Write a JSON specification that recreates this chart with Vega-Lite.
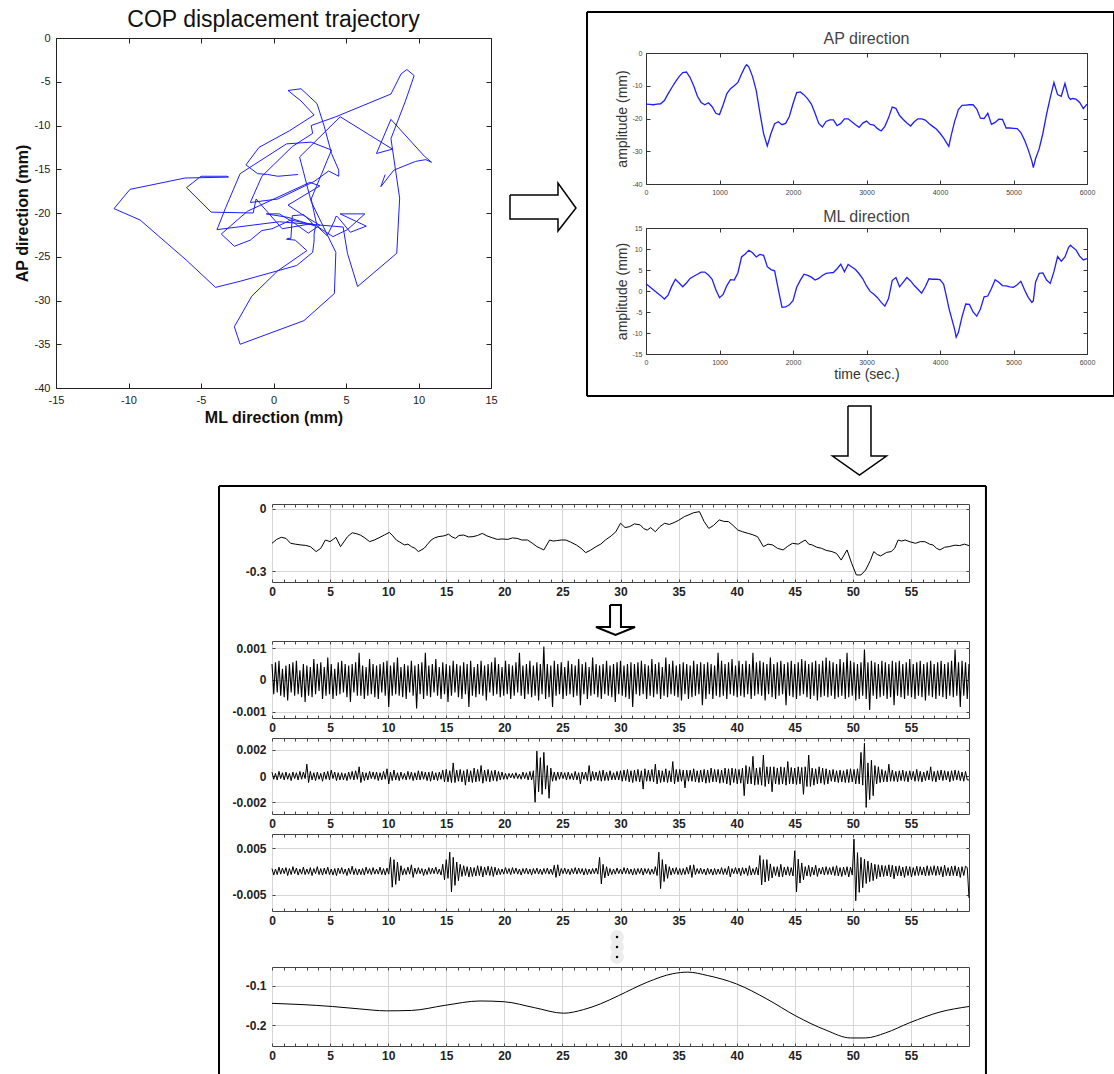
{
"$schema":"https://vega.github.io/schema/vega-lite/v6.json",
"background":"white",
"padding":{"left":13,"top":8,"right":0,"bottom":0},
"config":{"font":"Liberation Sans","view":{"stroke":"#333","strokeWidth":1},"axis":{"domain":false,"grid":false,"minExtent":0,"labelFont":"Liberation Sans","titleFont":"Liberation Sans"},"title":{"font":"Liberation Sans"}},
"datasets":{
"cop":[
{"t":0,"ap":-15.6,"ml":1.7},{"t":50,"ap":-15.7,"ml":1.0},{"t":100,"ap":-15.8,"ml":0.3},{"t":150,"ap":-15.6,"ml":-0.4},{"t":200,"ap":-15.5,"ml":-1.1},{"t":250,"ap":-14.5,"ml":-1.9},{"t":300,"ap":-12.5,"ml":-1.0},{"t":350,"ap":-10.6,"ml":1.1},{"t":400,"ap":-8.8,"ml":2.8},{"t":450,"ap":-7.2,"ml":1.9},{"t":500,"ap":-6.0,"ml":1.0},{"t":550,"ap":-5.8,"ml":1.9},{"t":600,"ap":-7.5,"ml":3.0},{"t":650,"ap":-10.1,"ml":3.5},{"t":700,"ap":-13.2,"ml":4.0},{"t":750,"ap":-15.1,"ml":4.5},{"t":800,"ap":-15.8,"ml":4.5},{"t":850,"ap":-15.2,"ml":3.8},{"t":900,"ap":-16.4,"ml":2.8},{"t":950,"ap":-18.4,"ml":0.3},{"t":1000,"ap":-18.8,"ml":-1.6},{"t":1050,"ap":-15.8,"ml":-0.8},{"t":1100,"ap":-12.4,"ml":1.3},{"t":1150,"ap":-10.9,"ml":2.7},{"t":1200,"ap":-10.0,"ml":2.6},{"t":1250,"ap":-9.0,"ml":4.3},{"t":1300,"ap":-6.4,"ml":8.1},{"t":1350,"ap":-4.1,"ml":8.8},{"t":1370,"ap":-3.6,"ml":9.2},{"t":1400,"ap":-4.3,"ml":9.7},{"t":1450,"ap":-7.2,"ml":9.1},{"t":1500,"ap":-11.5,"ml":8.1},{"t":1550,"ap":-18.3,"ml":8.7},{"t":1600,"ap":-24.6,"ml":8.5},{"t":1650,"ap":-28.4,"ml":5.8},{"t":1700,"ap":-24.6,"ml":5.1},{"t":1750,"ap":-21.6,"ml":4.8},{"t":1800,"ap":-21.0,"ml":0.4},{"t":1850,"ap":-21.9,"ml":-3.9},{"t":1900,"ap":-21.5,"ml":-3.8},{"t":1950,"ap":-19.4,"ml":-3.3},{"t":2000,"ap":-15.5,"ml":-2.3},{"t":2050,"ap":-12.1,"ml":0.9},{"t":2100,"ap":-11.9,"ml":2.6},{"t":2150,"ap":-12.8,"ml":4.0},{"t":2200,"ap":-14.0,"ml":3.7},{"t":2250,"ap":-15.6,"ml":3.3},{"t":2300,"ap":-18.4,"ml":2.6},{"t":2350,"ap":-21.5,"ml":3.0},{"t":2400,"ap":-22.6,"ml":3.7},{"t":2450,"ap":-20.9,"ml":4.2},{"t":2500,"ap":-20.4,"ml":4.3},{"t":2550,"ap":-20.4,"ml":4.4},{"t":2600,"ap":-22.2,"ml":5.3},{"t":2650,"ap":-21.5,"ml":6.4},{"t":2700,"ap":-20.1,"ml":4.6},{"t":2750,"ap":-20.1,"ml":6.3},{"t":2800,"ap":-21.0,"ml":5.7},{"t":2850,"ap":-21.9,"ml":5.1},{"t":2900,"ap":-22.7,"ml":4.1},{"t":2950,"ap":-21.4,"ml":2.9},{"t":3000,"ap":-20.8,"ml":1.2},{"t":3050,"ap":-21.8,"ml":-0.1},{"t":3100,"ap":-22.0,"ml":-0.8},{"t":3150,"ap":-23.1,"ml":-1.6},{"t":3200,"ap":-23.8,"ml":-2.7},{"t":3250,"ap":-22.4,"ml":-3.6},{"t":3300,"ap":-19.8,"ml":-1.8},{"t":3350,"ap":-16.5,"ml":2.5},{"t":3400,"ap":-16.9,"ml":3.2},{"t":3450,"ap":-19.1,"ml":1.0},{"t":3500,"ap":-20.3,"ml":2.1},{"t":3550,"ap":-21.4,"ml":3.2},{"t":3600,"ap":-22.3,"ml":2.4},{"t":3650,"ap":-21.0,"ml":1.3},{"t":3700,"ap":-20.1,"ml":0.4},{"t":3750,"ap":-20.1,"ml":-0.5},{"t":3800,"ap":-20.5,"ml":1.0},{"t":3850,"ap":-21.5,"ml":2.9},{"t":3900,"ap":-22.4,"ml":2.8},{"t":3950,"ap":-23.2,"ml":2.8},{"t":4000,"ap":-24.5,"ml":2.7},{"t":4050,"ap":-26.0,"ml":1.6},{"t":4100,"ap":-27.8,"ml":-2.3},{"t":4120,"ap":-28.5,"ml":-4.0},{"t":4150,"ap":-25.4,"ml":-6.0},{"t":4200,"ap":-20.8,"ml":-9.2},{"t":4220,"ap":-19.5,"ml":-11.0},{"t":4250,"ap":-17.3,"ml":-9.9},{"t":4300,"ap":-16.0,"ml":-6.1},{"t":4350,"ap":-15.9,"ml":-3.1},{"t":4400,"ap":-15.8,"ml":-3.2},{"t":4450,"ap":-15.8,"ml":-5.0},{"t":4500,"ap":-17.1,"ml":-6.0},{"t":4550,"ap":-19.9,"ml":-4.3},{"t":4600,"ap":-20.0,"ml":-1.4},{"t":4650,"ap":-18.4,"ml":-1.2},{"t":4700,"ap":-21.8,"ml":0.6},{"t":4750,"ap":-21.2,"ml":2.7},{"t":4800,"ap":-20.2,"ml":2.1},{"t":4850,"ap":-20.3,"ml":1.3},{"t":4900,"ap":-22.9,"ml":1.2},{"t":4950,"ap":-22.9,"ml":1.0},{"t":5000,"ap":-23.0,"ml":0.9},{"t":5050,"ap":-23.1,"ml":1.5},{"t":5100,"ap":-24.3,"ml":2.3},{"t":5150,"ap":-26.6,"ml":0.3},{"t":5200,"ap":-29.5,"ml":-1.5},{"t":5250,"ap":-33.0,"ml":-2.7},{"t":5270,"ap":-35.0,"ml":-2.3},{"t":5300,"ap":-32.3,"ml":2.1},{"t":5350,"ap":-29.2,"ml":4.2},{"t":5400,"ap":-24.5,"ml":4.3},{"t":5450,"ap":-18.7,"ml":2.6},{"t":5500,"ap":-13.6,"ml":1.8},{"t":5550,"ap":-9.0,"ml":4.6},{"t":5600,"ap":-12.7,"ml":8.2},{"t":5650,"ap":-13.2,"ml":7.1},{"t":5700,"ap":-9.3,"ml":8.1},{"t":5750,"ap":-13.5,"ml":10.4},{"t":5775,"ap":-14.2,"ml":10.9},{"t":5800,"ap":-13.9,"ml":10.5},{"t":5850,"ap":-14.1,"ml":9.8},{"t":5900,"ap":-15.1,"ml":8.3},{"t":5950,"ap":-17.0,"ml":7.4},{"t":6000,"ap":-15.6,"ml":7.7}],
"arrowR":[{"i":0,"x":16.31,"y":-17.94},{"i":1,"x":19.62,"y":-17.94},{"i":2,"x":19.62,"y":-16.57},{"i":3,"x":20.86,"y":-19.43},{"i":4,"x":19.62,"y":-22.06},{"i":5,"x":19.62,"y":-20.69},{"i":6,"x":16.31,"y":-20.69},{"i":7,"x":16.31,"y":-17.94}],
"arrowD":[{"i":0,"x":2748,"y":-27.38},{"i":1,"x":3061,"y":-27.38},{"i":2,"x":3061,"y":-39.29},{"i":3,"x":3272,"y":-39.29},{"i":4,"x":2904.5,"y":-43.81},{"i":5,"x":2537,"y":-39.29},{"i":6,"x":2748,"y":-39.29},{"i":7,"x":2748,"y":-27.38}],
"arrowS":[{"i":0,"x":29.10,"y":0.842},{"i":1,"x":30.04,"y":0.842},{"i":2,"x":30.04,"y":-0.316},{"i":3,"x":31.25,"y":-0.316},{"i":4,"x":29.57,"y":-0.737},{"i":5,"x":27.89,"y":-0.316},{"i":6,"x":29.10,"y":-0.316},{"i":7,"x":29.10,"y":0.842}],
"boxAP":[{"x1":-802.7,"x2":6367.3,"y1":3.6,"y2":3.6},{"x1":-802.7,"x2":6367.3,"y1":-34.8,"y2":-34.8},{"x1":-802.7,"x2":-802.7,"y1":3.6,"y2":-34.8},{"x1":6367.3,"x2":6367.3,"y1":3.6,"y2":-34.8}],
"boxB":[{"x1":-4.562,"x2":61.46,"y1":0.111,"y2":0.111},{"x1":-4.562,"x2":-4.562,"y1":0.111,"y2":-2.741},{"x1":61.46,"x2":61.46,"y1":0.111,"y2":-2.741}],
"dots":[{"x":29.7,"y":0.625},{"x":29.7,"y":0},{"x":29.7,"y":-0.625}],
"p1":[{"t":0,"v":-0.166},{"t":0.4,"v":-0.147},{"t":0.8,"v":-0.137},{"t":1.2,"v":-0.142},{"t":1.6,"v":-0.166},{"t":2.0,"v":-0.17},{"t":2.5,"v":-0.174},{"t":2.9,"v":-0.176},{"t":3.3,"v":-0.182},{"t":3.8,"v":-0.206},{"t":4.2,"v":-0.19},{"t":4.6,"v":-0.15},{"t":5.0,"v":-0.158},{"t":5.5,"v":-0.137},{"t":5.9,"v":-0.182},{"t":6.5,"v":-0.134},{"t":6.9,"v":-0.115},{"t":7.3,"v":-0.12},{"t":7.6,"v":-0.126},{"t":8.0,"v":-0.14},{"t":8.4,"v":-0.158},{"t":8.8,"v":-0.15},{"t":9.3,"v":-0.137},{"t":9.7,"v":-0.125},{"t":10.1,"v":-0.113},{"t":10.4,"v":-0.13},{"t":10.7,"v":-0.15},{"t":11.0,"v":-0.16},{"t":11.4,"v":-0.174},{"t":11.7,"v":-0.17},{"t":12.0,"v":-0.182},{"t":12.3,"v":-0.19},{"t":12.6,"v":-0.206},{"t":13.1,"v":-0.19},{"t":13.4,"v":-0.17},{"t":13.7,"v":-0.15},{"t":14.0,"v":-0.14},{"t":14.3,"v":-0.134},{"t":14.8,"v":-0.13},{"t":15.2,"v":-0.122},{"t":15.5,"v":-0.135},{"t":15.8,"v":-0.142},{"t":16.1,"v":-0.128},{"t":16.5,"v":-0.126},{"t":16.9,"v":-0.135},{"t":17.3,"v":-0.134},{"t":17.7,"v":-0.128},{"t":18.1,"v":-0.118},{"t":18.5,"v":-0.13},{"t":19.0,"v":-0.14},{"t":19.4,"v":-0.147},{"t":19.8,"v":-0.145},{"t":20.3,"v":-0.147},{"t":20.7,"v":-0.14},{"t":21.1,"v":-0.142},{"t":21.5,"v":-0.15},{"t":22.0,"v":-0.15},{"t":22.4,"v":-0.165},{"t":22.8,"v":-0.182},{"t":23.1,"v":-0.19},{"t":23.4,"v":-0.198},{"t":23.9,"v":-0.15},{"t":24.2,"v":-0.155},{"t":24.5,"v":-0.153},{"t":24.9,"v":-0.15},{"t":25.3,"v":-0.15},{"t":25.7,"v":-0.16},{"t":26.2,"v":-0.174},{"t":26.6,"v":-0.19},{"t":27.0,"v":-0.211},{"t":27.4,"v":-0.2},{"t":27.9,"v":-0.182},{"t":28.3,"v":-0.17},{"t":28.7,"v":-0.15},{"t":29.2,"v":-0.13},{"t":29.6,"v":-0.11},{"t":30.0,"v":-0.069},{"t":30.4,"v":-0.09},{"t":30.8,"v":-0.085},{"t":31.2,"v":-0.072},{"t":31.7,"v":-0.077},{"t":32.0,"v":-0.095},{"t":32.3,"v":-0.102},{"t":32.6,"v":-0.09},{"t":33.0,"v":-0.11},{"t":33.4,"v":-0.085},{"t":33.8,"v":-0.069},{"t":34.2,"v":-0.075},{"t":34.6,"v":-0.066},{"t":35.0,"v":-0.055},{"t":35.5,"v":-0.037},{"t":35.9,"v":-0.028},{"t":36.3,"v":-0.018},{"t":36.8,"v":-0.013},{"t":37.2,"v":-0.061},{"t":37.6,"v":-0.094},{"t":38.0,"v":-0.08},{"t":38.5,"v":-0.053},{"t":38.9,"v":-0.06},{"t":39.3,"v":-0.061},{"t":39.7,"v":-0.08},{"t":40.1,"v":-0.102},{"t":40.5,"v":-0.11},{"t":41.0,"v":-0.118},{"t":41.4,"v":-0.125},{"t":41.8,"v":-0.134},{"t":42.3,"v":-0.182},{"t":42.7,"v":-0.17},{"t":43.1,"v":-0.174},{"t":43.5,"v":-0.19},{"t":44.0,"v":-0.198},{"t":44.4,"v":-0.18},{"t":44.8,"v":-0.166},{"t":45.3,"v":-0.17},{"t":45.9,"v":-0.15},{"t":46.2,"v":-0.17},{"t":46.5,"v":-0.174},{"t":46.9,"v":-0.185},{"t":47.3,"v":-0.19},{"t":47.7,"v":-0.2},{"t":48.2,"v":-0.206},{"t":48.6,"v":-0.215},{"t":49.0,"v":-0.247},{"t":49.5,"v":-0.198},{"t":49.9,"v":-0.263},{"t":50.3,"v":-0.319},{"t":50.7,"v":-0.319},{"t":51.1,"v":-0.295},{"t":51.5,"v":-0.25},{"t":51.8,"v":-0.206},{"t":52.1,"v":-0.22},{"t":52.4,"v":-0.227},{"t":52.9,"v":-0.21},{"t":53.3,"v":-0.206},{"t":53.6,"v":-0.19},{"t":53.9,"v":-0.15},{"t":54.2,"v":-0.155},{"t":54.5,"v":-0.15},{"t":55.0,"v":-0.16},{"t":55.4,"v":-0.166},{"t":55.8,"v":-0.158},{"t":56.2,"v":-0.158},{"t":56.6,"v":-0.17},{"t":56.9,"v":-0.174},{"t":57.2,"v":-0.19},{"t":57.5,"v":-0.198},{"t":57.9,"v":-0.185},{"t":58.3,"v":-0.182},{"t":58.8,"v":-0.175},{"t":59.2,"v":-0.177},{"t":59.6,"v":-0.17},{"t":60.0,"v":-0.177}],
"p5":[{"t":0,"v":-0.144},{"t":2.5,"v":-0.147},{"t":5.2,"v":-0.152},{"t":7.5,"v":-0.158},{"t":9.85,"v":-0.163},{"t":12,"v":-0.162},{"t":14.9,"v":-0.149},{"t":17.9,"v":-0.138},{"t":20,"v":-0.14},{"t":22.6,"v":-0.155},{"t":25.1,"v":-0.169},{"t":26.8,"v":-0.16},{"t":28.3,"v":-0.145},{"t":29.8,"v":-0.125},{"t":32.3,"v":-0.0905},{"t":34.5,"v":-0.069},{"t":35.8,"v":-0.065},{"t":37.5,"v":-0.0736},{"t":40,"v":-0.095},{"t":42.6,"v":-0.133},{"t":45.1,"v":-0.176},{"t":47.7,"v":-0.212},{"t":49.8,"v":-0.2316},{"t":51.1,"v":-0.2316},{"t":52.8,"v":-0.219},{"t":54.9,"v":-0.193},{"t":57.5,"v":-0.166},{"t":60,"v":-0.152}],
"noise":[
{"t":0,"a":0.0005,"b":0.0003,"c":0.0006},{"t":0.15,"a":-0.00045,"b":-0.00025,"c":-0.0008},{"t":0.3,"a":0.00055,"b":0.0002,"c":0.0005},{"t":0.45,"a":-0.0004,"b":-0.0003,"c":-0.0007},{"t":0.6,"a":0.0006,"b":0.00035,"c":0.0009},{"t":0.75,"a":-0.0005,"b":-0.0002,"c":-0.0006},{"t":0.9,"a":0.00035,"b":0.00025,"c":0.0007},{"t":1.05,"a":-0.00055,"b":-0.0003,"c":-0.0005},{"t":1.2,"a":0.00045,"b":0.0003,"c":0.0008},{"t":1.35,"a":-0.00065,"b":-0.00025,"c":-0.0009},
{"t":1.5,"a":0.0005,"b":0.0002,"c":0.0006},{"t":1.65,"a":-0.0004,"b":-0.00035,"c":-0.0007},{"t":1.8,"a":0.00055,"b":0.0003,"c":0.001},{"t":1.95,"a":-0.0005,"b":-0.0002,"c":-0.0005},{"t":2.1,"a":0.0006,"b":0.00025,"c":0.0007},{"t":2.25,"a":-0.00045,"b":-0.0003,"c":-0.0008},{"t":2.4,"a":0.0003,"b":0.00035,"c":0.0005},{"t":2.55,"a":-0.00055,"b":-0.00025,"c":-0.0006},{"t":2.7,"a":0.0005,"b":0.0003,"c":0.0009},{"t":2.85,"a":-0.0007,"b":-0.0002,"c":-0.0007},
{"t":3,"a":0.00045,"b":0.0009,"c":0.0005},{"t":3.15,"a":-0.0005,"b":-0.0005,"c":-0.0006},{"t":3.3,"a":0.0004,"b":0.00035,"c":0.0008},{"t":3.45,"a":-0.00055,"b":-0.0003,"c":-0.0009},{"t":3.6,"a":0.00065,"b":0.00025,"c":0.0006},{"t":3.75,"a":-0.00045,"b":-0.00035,"c":-0.0005},{"t":3.9,"a":0.0005,"b":0.0003,"c":0.001},{"t":4.05,"a":-0.00035,"b":-0.00025,"c":-0.0007},{"t":4.2,"a":0.00055,"b":0.0002,"c":0.0006},{"t":4.35,"a":-0.0006,"b":-0.0004,"c":-0.0008},
{"t":4.5,"a":0.0004,"b":0.0003,"c":0.0007},{"t":4.65,"a":-0.0005,"b":-0.00025,"c":-0.0006},{"t":4.8,"a":0.0007,"b":0.00035,"c":0.0009},{"t":4.95,"a":-0.00045,"b":-0.0003,"c":-0.0007},{"t":5.1,"a":0.0005,"b":0.00045,"c":0.0005},{"t":5.25,"a":-0.0006,"b":-0.0002,"c":-0.0008},{"t":5.4,"a":0.00035,"b":0.0003,"c":0.0006},{"t":5.55,"a":-0.0005,"b":-0.00035,"c":-0.0009},{"t":5.7,"a":0.00055,"b":0.00025,"c":0.0007},{"t":5.85,"a":-0.00045,"b":-0.0003,"c":-0.0005},
{"t":6,"a":0.0006,"b":0.00025,"c":0.0008},{"t":6.15,"a":-0.0004,"b":-0.0003,"c":-0.0006},{"t":6.3,"a":0.0005,"b":0.0002,"c":0.0005},{"t":6.45,"a":-0.00055,"b":-0.00035,"c":-0.0009},{"t":6.6,"a":0.00045,"b":0.0003,"c":0.0007},{"t":6.75,"a":-0.0007,"b":-0.00025,"c":-0.0006},{"t":6.9,"a":0.0005,"b":0.00035,"c":0.0011},{"t":7.05,"a":-0.0004,"b":-0.0003,"c":-0.0007},{"t":7.2,"a":0.00055,"b":0.0004,"c":0.0006},{"t":7.35,"a":-0.0005,"b":-0.00025,"c":-0.0008},
{"t":7.5,"a":0.00085,"b":0.0007,"c":0.0005},{"t":7.65,"a":-0.0005,"b":-0.0005,"c":-0.0007},{"t":7.8,"a":0.00045,"b":0.0003,"c":0.0006},{"t":7.95,"a":-0.0006,"b":-0.00035,"c":-0.0008},{"t":8.1,"a":0.0004,"b":0.00025,"c":0.0009},{"t":8.25,"a":-0.0005,"b":-0.0003,"c":-0.0005},{"t":8.4,"a":0.00065,"b":0.00035,"c":0.0006},{"t":8.55,"a":-0.00045,"b":-0.0002,"c":-0.0007},{"t":8.7,"a":0.0005,"b":0.0003,"c":0.0008},{"t":8.85,"a":-0.00055,"b":-0.00025,"c":-0.0006},
{"t":9,"a":0.00045,"b":0.0003,"c":0.0005},{"t":9.15,"a":-0.0006,"b":-0.00035,"c":-0.0006},{"t":9.3,"a":0.0005,"b":0.00025,"c":0.0009},{"t":9.45,"a":-0.0004,"b":-0.0003,"c":-0.0007},{"t":9.6,"a":0.00055,"b":0.00035,"c":0.0006},{"t":9.75,"a":-0.0005,"b":-0.00025,"c":-0.0008},{"t":9.9,"a":0.0006,"b":0.00055,"c":0.0007},{"t":10.05,"a":-0.00085,"b":-0.0006,"c":-0.0006},{"t":10.2,"a":0.00045,"b":0.0003,"c":0.003},{"t":10.35,"a":-0.0005,"b":-0.00035,"c":-0.0034},
{"t":10.5,"a":0.00055,"b":0.00045,"c":0.0025},{"t":10.65,"a":-0.00045,"b":-0.0003,"c":-0.0028},{"t":10.8,"a":0.0007,"b":0.00025,"c":0.002},{"t":10.95,"a":-0.0005,"b":-0.00035,"c":-0.002},{"t":11.1,"a":0.0004,"b":0.0003,"c":0.0012},{"t":11.25,"a":-0.00055,"b":-0.00025,"c":-0.0008},{"t":11.4,"a":0.0005,"b":0.0002,"c":0.0006},{"t":11.55,"a":-0.0006,"b":-0.0003,"c":-0.0007},{"t":11.7,"a":0.00045,"b":0.00035,"c":0.0009},{"t":11.85,"a":-0.0004,"b":-0.00025,"c":-0.0006},
{"t":12,"a":0.0006,"b":0.0003,"c":0.0014},{"t":12.15,"a":-0.0005,"b":-0.00035,"c":-0.0013},{"t":12.3,"a":0.00045,"b":0.00025,"c":0.0007},{"t":12.45,"a":-0.0009,"b":-0.0003,"c":-0.0006},{"t":12.6,"a":0.0005,"b":0.0004,"c":0.0008},{"t":12.75,"a":-0.00045,"b":-0.0003,"c":-0.0005},{"t":12.9,"a":0.00055,"b":0.00035,"c":0.0006},{"t":13.05,"a":-0.0006,"b":-0.00025,"c":-0.0009},{"t":13.2,"a":0.00085,"b":0.0003,"c":0.0005},{"t":13.35,"a":-0.0005,"b":-0.00035,"c":-0.0007},
{"t":13.5,"a":0.00045,"b":0.0003,"c":0.0008},{"t":13.65,"a":-0.00055,"b":-0.0004,"c":-0.0006},{"t":13.8,"a":0.0005,"b":0.00035,"c":0.0007},{"t":13.95,"a":-0.0004,"b":-0.0003,"c":-0.0005},{"t":14.1,"a":0.00065,"b":0.00025,"c":0.0009},{"t":14.25,"a":-0.0005,"b":-0.00035,"c":-0.0006},{"t":14.4,"a":0.0004,"b":0.0003,"c":0.0005},{"t":14.55,"a":-0.0006,"b":-0.00025,"c":-0.0008},{"t":14.7,"a":0.00055,"b":0.00045,"c":0.0015},{"t":14.85,"a":-0.00045,"b":-0.00045,"c":-0.0018},
{"t":15,"a":0.0005,"b":0.0005,"c":0.0025},{"t":15.15,"a":-0.0007,"b":-0.00045,"c":-0.0015},{"t":15.3,"a":0.00045,"b":0.0004,"c":0.0041},{"t":15.45,"a":-0.0005,"b":-0.0005,"c":-0.0044},{"t":15.6,"a":0.0006,"b":0.001,"c":0.003},{"t":15.75,"a":-0.0004,"b":-0.0005,"c":-0.003},{"t":15.9,"a":0.0005,"b":0.00045,"c":0.002},{"t":16.05,"a":-0.00055,"b":-0.0004,"c":-0.002},{"t":16.2,"a":0.00045,"b":0.0005,"c":0.0015},{"t":16.35,"a":-0.0006,"b":-0.00045,"c":-0.0011},
{"t":16.5,"a":0.00055,"b":0.0004,"c":0.0012},{"t":16.65,"a":-0.00045,"b":-0.0007,"c":-0.0009},{"t":16.8,"a":0.0005,"b":0.0005,"c":0.001},{"t":16.95,"a":-0.00085,"b":-0.00045,"c":-0.0012},{"t":17.1,"a":0.0006,"b":0.0004,"c":0.0009},{"t":17.25,"a":-0.0005,"b":-0.0005,"c":-0.0011},{"t":17.4,"a":0.0004,"b":0.0006,"c":0.0008},{"t":17.55,"a":-0.00055,"b":-0.00045,"c":-0.001},{"t":17.7,"a":0.0005,"b":0.0005,"c":0.0012},{"t":17.85,"a":-0.00045,"b":-0.0004,"c":-0.0009},
{"t":18,"a":0.0006,"b":0.0008,"c":0.0011},{"t":18.15,"a":-0.0005,"b":-0.00055,"c":-0.0012},{"t":18.3,"a":0.00045,"b":0.00045,"c":0.0009},{"t":18.45,"a":-0.00065,"b":-0.0004,"c":-0.0008},{"t":18.6,"a":0.0005,"b":0.0005,"c":0.0011},{"t":18.75,"a":-0.0004,"b":-0.00045,"c":-0.0009},{"t":18.9,"a":0.00055,"b":0.0004,"c":0.001},{"t":19.05,"a":-0.0005,"b":-0.00035,"c":-0.0011},{"t":19.2,"a":0.0007,"b":0.00045,"c":0.0009},{"t":19.35,"a":-0.00045,"b":-0.0004,"c":-0.0008},
{"t":19.5,"a":0.0005,"b":0.00035,"c":0.0006},{"t":19.65,"a":-0.00055,"b":-0.0003,"c":-0.0007},{"t":19.8,"a":0.0004,"b":0.0003,"c":0.0005},{"t":19.95,"a":-0.0005,"b":-0.00025,"c":-0.0006},{"t":20.1,"a":0.0006,"b":0.0002,"c":0.0008},{"t":20.25,"a":-0.00045,"b":-0.00025,"c":-0.0005},{"t":20.4,"a":0.0005,"b":0.0002,"c":0.0006},{"t":20.55,"a":-0.0006,"b":-0.00015,"c":-0.0007},{"t":20.7,"a":0.00045,"b":0.0002,"c":0.0008},{"t":20.85,"a":-0.0005,"b":-0.0002,"c":-0.0005},
{"t":21,"a":0.00055,"b":0.00025,"c":0.0007},{"t":21.15,"a":-0.0004,"b":-0.0002,"c":-0.0006},{"t":21.3,"a":0.00085,"b":0.00015,"c":0.0005},{"t":21.45,"a":-0.0005,"b":-0.00025,"c":-0.0008},{"t":21.6,"a":0.00045,"b":0.0003,"c":0.0006},{"t":21.75,"a":-0.0006,"b":-0.0002,"c":-0.0005},{"t":21.9,"a":0.0005,"b":0.00025,"c":0.0007},{"t":22.05,"a":-0.00045,"b":-0.0003,"c":-0.0006},{"t":22.2,"a":0.0006,"b":0.00035,"c":0.0005},{"t":22.35,"a":-0.00055,"b":-0.0003,"c":-0.0008},
{"t":22.5,"a":0.00045,"b":0.0004,"c":0.0006},{"t":22.65,"a":-0.0005,"b":-0.002,"c":-0.0005},{"t":22.8,"a":0.00055,"b":0.0019,"c":0.0007},{"t":22.95,"a":-0.00065,"b":-0.0012,"c":-0.0006},{"t":23.1,"a":0.0005,"b":0.0014,"c":0.0005},{"t":23.25,"a":-0.00045,"b":-0.0014,"c":-0.0007},{"t":23.4,"a":0.00105,"b":0.0018,"c":0.0006},{"t":23.55,"a":-0.0006,"b":-0.001,"c":-0.0005},{"t":23.7,"a":0.0005,"b":0.0008,"c":0.0007},{"t":23.85,"a":-0.00055,"b":-0.0017,"c":-0.0006},
{"t":24,"a":0.00045,"b":0.0006,"c":0.0005},{"t":24.15,"a":-0.00085,"b":-0.0004,"c":-0.0007},{"t":24.3,"a":0.0006,"b":0.0003,"c":0.0013},{"t":24.45,"a":-0.0005,"b":-0.00035,"c":-0.0013},{"t":24.6,"a":0.0005,"b":0.0003,"c":0.0014},{"t":24.75,"a":-0.00045,"b":-0.00025,"c":-0.001},{"t":24.9,"a":0.00055,"b":0.0003,"c":0.0006},{"t":25.05,"a":-0.0006,"b":-0.0002,"c":-0.0005},{"t":25.2,"a":0.0004,"b":0.00025,"c":0.0007},{"t":25.35,"a":-0.0005,"b":-0.0003,"c":-0.0006},
{"t":25.5,"a":0.0006,"b":0.0003,"c":0.0005},{"t":25.65,"a":-0.00045,"b":-0.00025,"c":-0.0007},{"t":25.8,"a":0.0005,"b":0.0002,"c":0.0006},{"t":25.95,"a":-0.00055,"b":-0.0003,"c":-0.0005},{"t":26.1,"a":0.00045,"b":0.00035,"c":0.0008},{"t":26.25,"a":-0.0005,"b":-0.0003,"c":-0.0006},{"t":26.4,"a":0.00065,"b":0.00025,"c":0.0007},{"t":26.55,"a":-0.0008,"b":-0.0006,"c":-0.0005},{"t":26.7,"a":0.0005,"b":0.0003,"c":0.0006},{"t":26.85,"a":-0.00045,"b":-0.00025,"c":-0.0008},
{"t":27,"a":0.00055,"b":0.0003,"c":0.0006},{"t":27.15,"a":-0.0006,"b":-0.00035,"c":-0.0007},{"t":27.3,"a":0.0004,"b":0.0008,"c":0.0005},{"t":27.45,"a":-0.0005,"b":-0.0004,"c":-0.0006},{"t":27.6,"a":0.0007,"b":0.00035,"c":0.0006},{"t":27.75,"a":-0.00045,"b":-0.0003,"c":-0.0005},{"t":27.9,"a":0.0005,"b":0.0003,"c":0.0007},{"t":28.05,"a":-0.00055,"b":-0.00035,"c":-0.0006},{"t":28.2,"a":0.00045,"b":0.0004,"c":0.003},{"t":28.35,"a":-0.0006,"b":-0.0004,"c":-0.0027},
{"t":28.5,"a":0.0005,"b":0.00045,"c":0.0015},{"t":28.65,"a":-0.00045,"b":-0.00035,"c":-0.0014},{"t":28.8,"a":0.0006,"b":0.0003,"c":0.001},{"t":28.95,"a":-0.0005,"b":-0.00035,"c":-0.001},{"t":29.1,"a":0.00045,"b":0.0004,"c":0.0006},{"t":29.25,"a":-0.00055,"b":-0.0003,"c":-0.0007},{"t":29.4,"a":0.0005,"b":0.00025,"c":0.0005},{"t":29.55,"a":-0.0007,"b":-0.0003,"c":-0.0006},{"t":29.7,"a":0.00055,"b":0.00035,"c":0.0007},{"t":29.85,"a":-0.00045,"b":-0.0003,"c":-0.0005},
{"t":30,"a":0.0006,"b":0.0004,"c":0.0005},{"t":30.15,"a":-0.0005,"b":-0.0004,"c":-0.0006},{"t":30.3,"a":0.00045,"b":0.00045,"c":0.0008},{"t":30.45,"a":-0.00055,"b":-0.00035,"c":-0.0005},{"t":30.6,"a":0.0005,"b":0.0005,"c":0.0007},{"t":30.75,"a":-0.0006,"b":-0.00045,"c":-0.0006},{"t":30.9,"a":0.00055,"b":0.0004,"c":0.0005},{"t":31.05,"a":-0.00085,"b":-0.0005,"c":-0.0008},{"t":31.2,"a":0.0005,"b":0.00045,"c":0.0006},{"t":31.35,"a":-0.00045,"b":-0.0004,"c":-0.0007},
{"t":31.5,"a":0.00055,"b":0.0005,"c":0.0006},{"t":31.65,"a":-0.0005,"b":-0.00045,"c":-0.0005},{"t":31.8,"a":0.0006,"b":0.0004,"c":0.0007},{"t":31.95,"a":-0.00045,"b":-0.001,"c":-0.0008},{"t":32.1,"a":0.0005,"b":0.00055,"c":0.0006},{"t":32.25,"a":-0.0006,"b":-0.0004,"c":-0.0005},{"t":32.4,"a":0.00045,"b":0.00045,"c":0.0006},{"t":32.55,"a":-0.0005,"b":-0.0004,"c":-0.0007},{"t":32.7,"a":0.00065,"b":0.0005,"c":0.0005},{"t":32.85,"a":-0.00055,"b":-0.00045,"c":-0.0006},
{"t":33,"a":0.0005,"b":0.0009,"c":0.001},{"t":33.15,"a":-0.00045,"b":-0.0006,"c":-0.0009},{"t":33.3,"a":0.00055,"b":0.00045,"c":0.0041},{"t":33.45,"a":-0.0006,"b":-0.0005,"c":-0.0037},{"t":33.6,"a":0.0004,"b":0.0004,"c":0.0025},{"t":33.75,"a":-0.0005,"b":-0.00045,"c":-0.0022},{"t":33.9,"a":0.0007,"b":0.00055,"c":0.0015},{"t":34.05,"a":-0.00055,"b":-0.0005,"c":-0.0015},{"t":34.2,"a":0.0005,"b":0.0004,"c":0.001},{"t":34.35,"a":-0.00045,"b":-0.00045,"c":-0.0008},
{"t":34.5,"a":0.0006,"b":0.0011,"c":0.0007},{"t":34.65,"a":-0.0005,"b":-0.0006,"c":-0.0006},{"t":34.8,"a":0.00045,"b":0.0005,"c":0.0008},{"t":34.95,"a":-0.00055,"b":-0.00045,"c":-0.0007},{"t":35.1,"a":0.0005,"b":0.0005,"c":0.0006},{"t":35.25,"a":-0.00065,"b":-0.0004,"c":-0.0008},{"t":35.4,"a":0.00055,"b":0.00045,"c":0.0006},{"t":35.55,"a":-0.00045,"b":-0.0009,"c":-0.0007},{"t":35.7,"a":0.0005,"b":0.00045,"c":0.0009},{"t":35.85,"a":-0.0006,"b":-0.0004,"c":-0.0006},
{"t":36,"a":0.00045,"b":0.00045,"c":0.0013},{"t":36.15,"a":-0.00055,"b":-0.0004,"c":-0.0013},{"t":36.3,"a":0.0006,"b":0.00055,"c":0.0014},{"t":36.45,"a":-0.0005,"b":-0.00045,"c":-0.0007},{"t":36.6,"a":0.0005,"b":0.0004,"c":0.0006},{"t":36.75,"a":-0.00045,"b":-0.0005,"c":-0.0005},{"t":36.9,"a":0.00055,"b":0.00045,"c":0.0007},{"t":37.05,"a":-0.0008,"b":-0.00045,"c":-0.0006},{"t":37.2,"a":0.0005,"b":0.0005,"c":0.0005},{"t":37.35,"a":-0.0006,"b":-0.00055,"c":-0.0008},
{"t":37.5,"a":0.00055,"b":0.00045,"c":0.0007},{"t":37.65,"a":-0.00045,"b":-0.0005,"c":-0.0006},{"t":37.8,"a":0.0005,"b":0.0006,"c":0.0005},{"t":37.95,"a":-0.0006,"b":-0.00045,"c":-0.0008},{"t":38.1,"a":0.00045,"b":0.0005,"c":0.0006},{"t":38.25,"a":-0.0005,"b":-0.00045,"c":-0.0007},{"t":38.4,"a":0.00085,"b":0.0005,"c":0.0005},{"t":38.55,"a":-0.00055,"b":-0.00055,"c":-0.0006},{"t":38.7,"a":0.0006,"b":0.00045,"c":0.0008},{"t":38.85,"a":-0.0005,"b":-0.0005,"c":-0.0007},
{"t":39,"a":0.0005,"b":0.0006,"c":0.0006},{"t":39.15,"a":-0.0006,"b":-0.0006,"c":-0.0007},{"t":39.3,"a":0.00055,"b":0.00055,"c":0.0011},{"t":39.45,"a":-0.00045,"b":-0.0007,"c":-0.0012},{"t":39.6,"a":0.00065,"b":0.0006,"c":0.0006},{"t":39.75,"a":-0.0005,"b":-0.0005,"c":-0.0005},{"t":39.9,"a":0.00045,"b":0.00055,"c":0.0008},{"t":40.05,"a":-0.00055,"b":-0.0006,"c":-0.0006},{"t":40.2,"a":0.0006,"b":0.0005,"c":0.0007},{"t":40.35,"a":-0.0005,"b":-0.00055,"c":-0.0009},
{"t":40.5,"a":0.0005,"b":0.0006,"c":0.0008},{"t":40.65,"a":-0.00055,"b":-0.0015,"c":-0.0006},{"t":40.8,"a":0.0006,"b":0.0008,"c":0.0007},{"t":40.95,"a":-0.00045,"b":-0.0006,"c":-0.0009},{"t":41.1,"a":0.0005,"b":0.0007,"c":0.0012},{"t":41.25,"a":-0.0006,"b":-0.0006,"c":-0.0008},{"t":41.4,"a":0.00085,"b":0.0015,"c":0.0006},{"t":41.55,"a":-0.0005,"b":-0.0007,"c":-0.0007},{"t":41.7,"a":0.00055,"b":0.0006,"c":0.0009},{"t":41.85,"a":-0.00045,"b":-0.00065,"c":-0.0008},
{"t":42,"a":0.0006,"b":0.00065,"c":0.0034},{"t":42.15,"a":-0.0005,"b":-0.0007,"c":-0.0029},{"t":42.3,"a":0.00055,"b":0.0016,"c":0.0025},{"t":42.45,"a":-0.00065,"b":-0.0008,"c":-0.0023},{"t":42.6,"a":0.0005,"b":0.0007,"c":0.0025},{"t":42.75,"a":-0.00045,"b":-0.0006,"c":-0.002},{"t":42.9,"a":0.0007,"b":0.0007,"c":0.0016},{"t":43.05,"a":-0.00055,"b":-0.0012,"c":-0.0014},{"t":43.2,"a":0.0005,"b":0.0007,"c":0.001},{"t":43.35,"a":-0.0006,"b":-0.0006,"c":-0.0009},
{"t":43.5,"a":0.00055,"b":0.0006,"c":0.001},{"t":43.65,"a":-0.0005,"b":-0.00065,"c":-0.0012},{"t":43.8,"a":0.0006,"b":0.0007,"c":0.0015},{"t":43.95,"a":-0.00045,"b":-0.0006,"c":-0.0012},{"t":44.1,"a":0.0005,"b":0.00065,"c":0.0009},{"t":44.25,"a":-0.0008,"b":-0.0007,"c":-0.0008},{"t":44.4,"a":0.00055,"b":0.0011,"c":0.001},{"t":44.55,"a":-0.0005,"b":-0.0006,"c":-0.0009},{"t":44.7,"a":0.0006,"b":0.00065,"c":0.0008},{"t":44.85,"a":-0.00055,"b":-0.0006,"c":-0.001},
{"t":45,"a":0.0005,"b":0.0006,"c":0.0044},{"t":45.15,"a":-0.0006,"b":-0.00065,"c":-0.0044},{"t":45.3,"a":0.00055,"b":0.0007,"c":0.0026},{"t":45.45,"a":-0.0005,"b":-0.0006,"c":-0.0025},{"t":45.6,"a":0.00065,"b":0.00065,"c":0.0018},{"t":45.75,"a":-0.00045,"b":-0.0014,"c":-0.0018},{"t":45.9,"a":0.0006,"b":0.0007,"c":0.001},{"t":46.05,"a":-0.00055,"b":-0.0008,"c":-0.001},{"t":46.2,"a":0.0005,"b":0.0016,"c":0.0013},{"t":46.35,"a":-0.0006,"b":-0.0008,"c":-0.0011},
{"t":46.5,"a":0.00055,"b":0.0006,"c":0.0009},{"t":46.65,"a":-0.0005,"b":-0.0007,"c":-0.0008},{"t":46.8,"a":0.0006,"b":0.00055,"c":0.0013},{"t":46.95,"a":-0.00065,"b":-0.0006,"c":-0.0011},{"t":47.1,"a":0.0005,"b":0.0007,"c":0.0007},{"t":47.25,"a":-0.00055,"b":-0.00055,"c":-0.0006},{"t":47.4,"a":0.0006,"b":0.0006,"c":0.0009},{"t":47.55,"a":-0.0005,"b":-0.00065,"c":-0.0008},{"t":47.7,"a":0.0007,"b":0.00055,"c":0.001},{"t":47.85,"a":-0.00055,"b":-0.0006,"c":-0.0007},
{"t":48,"a":0.0006,"b":0.00045,"c":0.0008},{"t":48.15,"a":-0.0005,"b":-0.0004,"c":-0.0007},{"t":48.3,"a":0.00055,"b":0.0005,"c":0.001},{"t":48.45,"a":-0.0006,"b":-0.00045,"c":-0.0009},{"t":48.6,"a":0.0005,"b":0.0004,"c":0.0012},{"t":48.75,"a":-0.00055,"b":-0.0005,"c":-0.001},{"t":48.9,"a":0.00065,"b":0.00045,"c":0.0008},{"t":49.05,"a":-0.0005,"b":-0.00045,"c":-0.0011},{"t":49.2,"a":0.00055,"b":0.0004,"c":0.0009},{"t":49.35,"a":-0.0006,"b":-0.0005,"c":-0.0008},
{"t":49.5,"a":0.00085,"b":0.0005,"c":0.001},{"t":49.65,"a":-0.00055,"b":-0.0005,"c":-0.0012},{"t":49.8,"a":0.0006,"b":0.00055,"c":0.0009},{"t":49.95,"a":-0.0005,"b":-0.00045,"c":-0.0008},{"t":50.1,"a":0.00055,"b":0.0005,"c":0.0069},{"t":50.25,"a":-0.00065,"b":-0.0006,"c":-0.0063},{"t":50.4,"a":0.0005,"b":0.00055,"c":0.004},{"t":50.55,"a":-0.0006,"b":-0.0006,"c":-0.0045},{"t":50.7,"a":0.00055,"b":0.0018,"c":0.003},{"t":50.85,"a":-0.0005,"b":-0.0007,"c":-0.0035},
{"t":51,"a":0.00095,"b":0.0025,"c":0.0026},{"t":51.15,"a":-0.0006,"b":-0.0024,"c":-0.0026},{"t":51.3,"a":0.00055,"b":0.001,"c":0.0022},{"t":51.45,"a":-0.00095,"b":-0.0018,"c":-0.0022},{"t":51.6,"a":0.0006,"b":0.0012,"c":0.0018},{"t":51.75,"a":-0.0005,"b":-0.0015,"c":-0.002},{"t":51.9,"a":0.00055,"b":0.0008,"c":0.0015},{"t":52.05,"a":-0.0006,"b":-0.0006,"c":-0.0016},{"t":52.2,"a":0.0005,"b":0.0007,"c":0.0014},{"t":52.35,"a":-0.00055,"b":-0.0005,"c":-0.0012},
{"t":52.5,"a":0.0006,"b":0.0005,"c":0.0013},{"t":52.65,"a":-0.0005,"b":-0.00045,"c":-0.0011},{"t":52.8,"a":0.00055,"b":0.0004,"c":0.0012},{"t":52.95,"a":-0.0006,"b":-0.00045,"c":-0.001},{"t":53.1,"a":0.0005,"b":0.0009,"c":0.0014},{"t":53.25,"a":-0.00055,"b":-0.0004,"c":-0.0012},{"t":53.4,"a":0.0006,"b":0.00045,"c":0.0013},{"t":53.55,"a":-0.0008,"b":-0.0004,"c":-0.0016},{"t":53.7,"a":0.00055,"b":0.00035,"c":0.0011},{"t":53.85,"a":-0.0005,"b":-0.00045,"c":-0.001},
{"t":54,"a":0.0006,"b":0.0004,"c":0.0012},{"t":54.15,"a":-0.00055,"b":-0.00035,"c":-0.001},{"t":54.3,"a":0.0005,"b":0.00045,"c":0.0009},{"t":54.45,"a":-0.0006,"b":-0.0004,"c":-0.0013},{"t":54.6,"a":0.00055,"b":0.00035,"c":0.0011},{"t":54.75,"a":-0.0005,"b":-0.00045,"c":-0.0009},{"t":54.9,"a":0.00065,"b":0.0004,"c":0.001},{"t":55.05,"a":-0.00055,"b":-0.0003,"c":-0.0012},{"t":55.2,"a":0.0005,"b":0.00035,"c":0.0008},{"t":55.35,"a":-0.0006,"b":-0.0004,"c":-0.0009},
{"t":55.5,"a":0.00055,"b":0.0005,"c":0.0011},{"t":55.65,"a":-0.0005,"b":-0.0004,"c":-0.0009},{"t":55.8,"a":0.0006,"b":0.00035,"c":0.001},{"t":55.95,"a":-0.00055,"b":-0.00045,"c":-0.0008},{"t":56.1,"a":0.0005,"b":0.0003,"c":0.0009},{"t":56.25,"a":-0.00065,"b":-0.00035,"c":-0.001},{"t":56.4,"a":0.00055,"b":0.0004,"c":0.0012},{"t":56.55,"a":-0.0005,"b":-0.0003,"c":-0.0009},{"t":56.7,"a":0.0006,"b":0.0007,"c":0.001},{"t":56.85,"a":-0.00055,"b":-0.0004,"c":-0.0008},
{"t":57,"a":0.0005,"b":0.00035,"c":0.0012},{"t":57.15,"a":-0.0006,"b":-0.00045,"c":-0.0009},{"t":57.3,"a":0.00055,"b":0.0004,"c":0.0011},{"t":57.45,"a":-0.0005,"b":-0.0003,"c":-0.0008},{"t":57.6,"a":0.0006,"b":0.00045,"c":0.001},{"t":57.75,"a":-0.00055,"b":-0.00035,"c":-0.0012},{"t":57.9,"a":0.0005,"b":0.0004,"c":0.0013},{"t":58.05,"a":-0.0006,"b":-0.0003,"c":-0.0009},{"t":58.2,"a":0.00055,"b":0.00035,"c":0.0008},{"t":58.35,"a":-0.0005,"b":-0.00045,"c":-0.001},
{"t":58.5,"a":0.0006,"b":0.0004,"c":0.0011},{"t":58.65,"a":-0.00055,"b":-0.00035,"c":-0.0009},{"t":58.8,"a":0.00095,"b":0.00045,"c":0.0012},{"t":58.95,"a":-0.0005,"b":-0.0003,"c":-0.001},{"t":59.1,"a":0.00055,"b":0.0004,"c":0.0009},{"t":59.25,"a":-0.00085,"b":-0.00035,"c":-0.0013},{"t":59.4,"a":0.0006,"b":0.0003,"c":0.001},{"t":59.55,"a":-0.0005,"b":-0.0004,"c":-0.0009},{"t":59.7,"a":0.00055,"b":0.00035,"c":0.0011},{"t":59.85,"a":-0.0006,"b":-0.0003,"c":0.0008},
{"t":60,"a":0.0005,"b":-0.0003,"c":-0.0057}]
},
"spacing":5,
"vconcat":[
{"spacing":6,"hconcat":[
{"width":435,"height":350,"view":{"stroke":"#222"},
"title":{"text":"COP displacement trajectory","fontSize":23,"fontWeight":"normal","color":"#111","anchor":"middle","frame":"group","baseline":"alphabetic","offset":-18},
"layer":[
{"data":{"name":"cop"},"mark":{"type":"line","color":"#1e1eff","strokeWidth":1},
"encoding":{
"x":{"field":"ml","type":"quantitative","scale":{"domain":[-15,15],"nice":false,"zero":false},"axis":{"orient":"bottom","values":[-15,-10,-5,0,5,10,15],"format":"d","labelExpr":"replace(datum.label,'\u2212','-')","title":"ML direction (mm)","titleFontSize":16,"titleFontWeight":"bold","titleColor":"#111","titlePadding":4,"labelFontSize":11,"labelColor":"#222","tickSize":-5,"tickColor":"#222","labelPadding":11,"labelFlush":false,"labelOverlap":false}},
"y":{"field":"ap","type":"quantitative","scale":{"domain":[-40,0],"nice":false,"zero":false},"axis":{"orient":"left","values":[0,-5,-10,-15,-20,-25,-30,-35,-40],"format":"d","labelExpr":"replace(datum.label,'\u2212','-')","title":"AP direction (mm)","titleFontSize":16,"titleFontWeight":"bold","titleColor":"#111","titlePadding":4,"labelFontSize":11,"labelColor":"#222","tickSize":-5,"tickColor":"#222","labelPadding":11,"labelFlush":false,"labelOverlap":false}},
"order":{"field":"t","type":"quantitative"}}},
{"data":{"name":"arrowR"},"mark":{"type":"line","color":"#000","strokeWidth":1.5,"clip":false,"strokeJoin":"miter"},
"encoding":{
"x":{"field":"x","type":"quantitative","scale":{"domain":[-15,15],"nice":false,"zero":false},"axis":{"orient":"top","values":[-15,-10,-5,0,5,10,15],"labels":false,"title":null,"tickSize":-5,"tickColor":"#222"}},
"y":{"field":"y","type":"quantitative","scale":{"domain":[-40,0],"nice":false,"zero":false},"axis":{"orient":"right","values":[0,-5,-10,-15,-20,-25,-30,-35,-40],"labels":false,"title":null,"tickSize":-5,"tickColor":"#222"}},
"order":{"field":"i","type":"quantitative"}}}
],
"resolve":{"axis":{"x":"independent","y":"independent"}}},
{"bounds":"flush","spacing":5,"vconcat":[
{"width":441,"height":10,"view":{"stroke":null},"data":{"name":"boxAP"},"mark":{"type":"rule","color":"#000","strokeWidth":2,"clip":false},
"encoding":{"x":{"field":"x1","type":"quantitative","scale":{"domain":[0,6000],"nice":false,"zero":false},"axis":null},"x2":{"field":"x2"},"y":{"field":"y1","type":"quantitative","scale":{"domain":[0,1],"nice":false,"zero":false},"axis":null},"y2":{"field":"y2"}}},
{"width":441,"height":131,"view":{"stroke":"#333"},
"title":{"text":"AP direction","fontSize":16,"fontWeight":"normal","color":"#444","anchor":"middle","frame":"group","baseline":"alphabetic","offset":-11},
"layer":[
{"data":{"name":"cop"},"mark":{"type":"line","color":"#1e1eff","strokeWidth":1.3},
"encoding":{
"x":{"field":"t","type":"quantitative","scale":{"domain":[0,6000],"nice":false,"zero":false},"axis":{"orient":"bottom","values":[0,1000,2000,3000,4000,5000,6000],"format":"d","title":null,"labelFontSize":7,"labelColor":"#444","tickSize":-4,"tickColor":"#333","labelPadding":8,"labelFlush":false,"labelOverlap":false}},
"y":{"field":"ap","type":"quantitative","scale":{"domain":[-40,0],"nice":false,"zero":false},"axis":{"orient":"left","values":[0,-10,-20,-30,-40],"format":"d","labelExpr":"replace(datum.label,'\u2212','-')","title":"amplitude (mm)","titleFontSize":14,"titleFontWeight":"normal","titleColor":"#333","titlePadding":2,"labelFontSize":7,"labelColor":"#444","tickSize":-4,"tickColor":"#333","labelPadding":8}}}},
{"data":{"values":[{"t":0,"v":0}]},"mark":{"type":"point","opacity":0},
"encoding":{
"x":{"field":"t","type":"quantitative","scale":{"domain":[0,6000],"nice":false,"zero":false},"axis":{"orient":"top","values":[0,1000,2000,3000,4000,5000,6000],"labels":false,"title":null,"tickSize":-4,"tickColor":"#333"}},
"y":{"field":"v","type":"quantitative","scale":{"domain":[-40,0],"nice":false,"zero":false},"axis":{"orient":"right","values":[0,-10,-20,-30,-40],"labels":false,"title":null,"tickSize":-4,"tickColor":"#333"}}}}
],
"resolve":{"axis":{"x":"independent","y":"independent"}}},
{"width":441,"height":34,"view":{"stroke":null},"data":{"values":[]},"mark":"point"},
{"width":441,"height":126,"view":{"stroke":"#333"},
"title":{"text":"ML direction","fontSize":16,"fontWeight":"normal","color":"#444","anchor":"middle","frame":"group","baseline":"alphabetic","offset":-13.5},
"layer":[
{"data":{"name":"cop"},"mark":{"type":"line","color":"#1e1eff","strokeWidth":1.3},
"encoding":{
"x":{"field":"t","type":"quantitative","scale":{"domain":[0,6000],"nice":false,"zero":false},"axis":{"orient":"bottom","values":[0,1000,2000,3000,4000,5000,6000],"format":"d","title":"time (sec.)","titleFontSize":14,"titleFontWeight":"normal","titleColor":"#333","titlePadding":2,"labelFontSize":7,"labelColor":"#444","tickSize":-4,"tickColor":"#333","labelPadding":8,"labelFlush":false,"labelOverlap":false}},
"y":{"field":"ml","type":"quantitative","scale":{"domain":[-15,15],"nice":false,"zero":false},"axis":{"orient":"left","values":[15,10,5,0,-5,-10,-15],"format":"d","labelExpr":"replace(datum.label,'\u2212','-')","title":"amplitude (mm)","titleFontSize":14,"titleFontWeight":"normal","titleColor":"#333","titlePadding":2,"labelFontSize":7,"labelColor":"#444","tickSize":-4,"tickColor":"#333","labelPadding":8}}}},
{"data":{"name":"arrowD"},"mark":{"type":"line","color":"#000","strokeWidth":1.5,"clip":false,"strokeJoin":"miter"},
"encoding":{
"x":{"field":"x","type":"quantitative","scale":{"domain":[0,6000],"nice":false,"zero":false},"axis":{"orient":"top","values":[0,1000,2000,3000,4000,5000,6000],"labels":false,"title":null,"tickSize":-4,"tickColor":"#333"}},
"y":{"field":"y","type":"quantitative","scale":{"domain":[-15,15],"nice":false,"zero":false},"axis":{"orient":"right","values":[15,10,5,0,-5,-10,-15],"labels":false,"title":null,"tickSize":-4,"tickColor":"#333"}},
"order":{"field":"i","type":"quantitative"}}}
],
"resolve":{"axis":{"x":"independent","y":"independent"}}}
]}
]},
{"spacing":5,"hconcat":[
{"width":155,"height":10,"view":{"stroke":"white"},"data":{"values":[]},"mark":"point"},
{"bounds":"flush","spacing":20,"vconcat":[
{"width":697,"height":78,"view":{"stroke":"#444"},
"layer":[
{"data":{"name":"p1"},"mark":{"type":"line","color":"#000","strokeWidth":1},
"encoding":{
"x":{"field":"t","type":"quantitative","scale":{"domain":[0,60],"nice":false,"zero":false},"axis":{"orient":"bottom","values":[0,1,2,3,4,5,6,7,8,9,10,11,12,13,14,15,16,17,18,19,20,21,22,23,24,25,26,27,28,29,30,31,32,33,34,35,36,37,38,39,40,41,42,43,44,45,46,47,48,49,50,51,52,53,54,55,56,57,58,59],"format":"d","labelExpr":"datum.value % 5 === 0 ? datum.label : ''","title":null,"labelFontSize":12,"labelFontWeight":"bold","labelColor":"#222","tickSize":-3,"tickColor":"#444","labelPadding":7,"labelFlush":false,"labelOverlap":false,"grid":true,"gridColor":"#d6d6d6","gridOpacity":{"condition":{"test":"datum.value % 5 === 0","value":1},"value":0}}},
"y":{"field":"v","type":"quantitative","scale":{"domain":[-0.353,0.024],"nice":false,"zero":false},"axis":{"orient":"left","values":[0,-0.3],"format":"~g","labelExpr":"replace(datum.label,'\u2212','-')","title":null,"labelFontSize":12,"labelFontWeight":"bold","labelColor":"#222","tickSize":-3,"tickColor":"#444","labelPadding":9,"grid":true,"gridColor":"#d6d6d6"}}}},
{"data":{"name":"boxB"},"mark":{"type":"rule","color":"#000","strokeWidth":2,"clip":false},
"encoding":{
"x":{"field":"x1","type":"quantitative","scale":{"domain":[0,60],"nice":false,"zero":false},"axis":{"orient":"top","values":[0,1,2,3,4,5,6,7,8,9,10,11,12,13,14,15,16,17,18,19,20,21,22,23,24,25,26,27,28,29,30,31,32,33,34,35,36,37,38,39,40,41,42,43,44,45,46,47,48,49,50,51,52,53,54,55,56,57,58,59],"labels":false,"title":null,"tickSize":-3,"tickColor":"#444"}},
"x2":{"field":"x2"},
"y":{"field":"y1","type":"quantitative","scale":{"domain":[-0.353,0.024],"nice":false,"zero":false},"axis":{"orient":"right","values":[0,-0.3],"labels":false,"title":null,"tickSize":-3,"tickColor":"#444"}},
"y2":{"field":"y2"}}}
],
"resolve":{"axis":{"x":"independent","y":"independent"}}},
{"width":697,"height":19,"view":{"stroke":null},"data":{"name":"arrowS"},"mark":{"type":"line","color":"#000","strokeWidth":2,"clip":false,"strokeJoin":"miter"},
"encoding":{"x":{"field":"x","type":"quantitative","scale":{"domain":[0,60],"nice":false,"zero":false},"axis":null},"y":{"field":"y","type":"quantitative","scale":{"domain":[0,1],"nice":false,"zero":false},"axis":null},"order":{"field":"i","type":"quantitative"}}},
{"width":697,"height":77,"view":{"stroke":"#444"},
"layer":[
{"data":{"name":"noise"},"mark":{"type":"line","color":"#000","strokeWidth":1.1},
"encoding":{
"x":{"field":"t","type":"quantitative","scale":{"domain":[0,60],"nice":false,"zero":false},"axis":{"orient":"bottom","values":[0,1,2,3,4,5,6,7,8,9,10,11,12,13,14,15,16,17,18,19,20,21,22,23,24,25,26,27,28,29,30,31,32,33,34,35,36,37,38,39,40,41,42,43,44,45,46,47,48,49,50,51,52,53,54,55,56,57,58,59],"format":"d","labelExpr":"datum.value % 5 === 0 ? datum.label : ''","title":null,"labelFontSize":12,"labelFontWeight":"bold","labelColor":"#222","tickSize":-3,"tickColor":"#444","labelPadding":7,"labelFlush":false,"labelOverlap":false,"grid":true,"gridColor":"#d6d6d6","gridOpacity":{"condition":{"test":"datum.value % 5 === 0","value":1},"value":0}}},
"y":{"field":"a","type":"quantitative","scale":{"domain":[-0.0012,0.00122],"nice":false,"zero":false},"axis":{"orient":"left","values":[0.001,0,-0.001],"format":"~g","labelExpr":"replace(datum.label,'\u2212','-')","title":null,"labelFontSize":12,"labelFontWeight":"bold","labelColor":"#222","tickSize":-3,"tickColor":"#444","labelPadding":9,"grid":true,"gridColor":"#d6d6d6"}}}},
{"data":{"values":[{"t":0,"v":0}]},"mark":{"type":"point","opacity":0},
"encoding":{
"x":{"field":"t","type":"quantitative","scale":{"domain":[0,60],"nice":false,"zero":false},"axis":{"orient":"top","values":[0,1,2,3,4,5,6,7,8,9,10,11,12,13,14,15,16,17,18,19,20,21,22,23,24,25,26,27,28,29,30,31,32,33,34,35,36,37,38,39,40,41,42,43,44,45,46,47,48,49,50,51,52,53,54,55,56,57,58,59],"labels":false,"title":null,"tickSize":-3,"tickColor":"#444"}},
"y":{"field":"v","type":"quantitative","scale":{"domain":[-0.0012,0.00122],"nice":false,"zero":false},"axis":{"orient":"right","values":[0.001,0,-0.001],"labels":false,"title":null,"tickSize":-3,"tickColor":"#444"}}}}
],
"resolve":{"axis":{"x":"independent","y":"independent"}}},
{"width":697,"height":76,"view":{"stroke":"#444"},
"layer":[
{"data":{"name":"noise"},"mark":{"type":"line","color":"#000","strokeWidth":1},
"encoding":{
"x":{"field":"t","type":"quantitative","scale":{"domain":[0,60],"nice":false,"zero":false},"axis":{"orient":"bottom","values":[0,1,2,3,4,5,6,7,8,9,10,11,12,13,14,15,16,17,18,19,20,21,22,23,24,25,26,27,28,29,30,31,32,33,34,35,36,37,38,39,40,41,42,43,44,45,46,47,48,49,50,51,52,53,54,55,56,57,58,59],"format":"d","labelExpr":"datum.value % 5 === 0 ? datum.label : ''","title":null,"labelFontSize":12,"labelFontWeight":"bold","labelColor":"#222","tickSize":-3,"tickColor":"#444","labelPadding":7,"labelFlush":false,"labelOverlap":false,"grid":true,"gridColor":"#d6d6d6","gridOpacity":{"condition":{"test":"datum.value % 5 === 0","value":1},"value":0}}},
"y":{"field":"b","type":"quantitative","scale":{"domain":[-0.0029,0.0029],"nice":false,"zero":false},"axis":{"orient":"left","values":[0.002,0,-0.002],"format":"~g","labelExpr":"replace(datum.label,'\u2212','-')","title":null,"labelFontSize":12,"labelFontWeight":"bold","labelColor":"#222","tickSize":-3,"tickColor":"#444","labelPadding":9,"grid":true,"gridColor":"#d6d6d6"}}}},
{"data":{"values":[{"t":0,"v":0}]},"mark":{"type":"point","opacity":0},
"encoding":{
"x":{"field":"t","type":"quantitative","scale":{"domain":[0,60],"nice":false,"zero":false},"axis":{"orient":"top","values":[0,1,2,3,4,5,6,7,8,9,10,11,12,13,14,15,16,17,18,19,20,21,22,23,24,25,26,27,28,29,30,31,32,33,34,35,36,37,38,39,40,41,42,43,44,45,46,47,48,49,50,51,52,53,54,55,56,57,58,59],"labels":false,"title":null,"tickSize":-3,"tickColor":"#444"}},
"y":{"field":"v","type":"quantitative","scale":{"domain":[-0.0029,0.0029],"nice":false,"zero":false},"axis":{"orient":"right","values":[0.002,0,-0.002],"labels":false,"title":null,"tickSize":-3,"tickColor":"#444"}}}}
],
"resolve":{"axis":{"x":"independent","y":"independent"}}},
{"width":697,"height":77,"view":{"stroke":"#444"},
"layer":[
{"data":{"name":"noise"},"mark":{"type":"line","color":"#000","strokeWidth":1},
"encoding":{
"x":{"field":"t","type":"quantitative","scale":{"domain":[0,60],"nice":false,"zero":false},"axis":{"orient":"bottom","values":[0,1,2,3,4,5,6,7,8,9,10,11,12,13,14,15,16,17,18,19,20,21,22,23,24,25,26,27,28,29,30,31,32,33,34,35,36,37,38,39,40,41,42,43,44,45,46,47,48,49,50,51,52,53,54,55,56,57,58,59],"format":"d","labelExpr":"datum.value % 5 === 0 ? datum.label : ''","title":null,"labelFontSize":12,"labelFontWeight":"bold","labelColor":"#222","tickSize":-3,"tickColor":"#444","labelPadding":7,"labelFlush":false,"labelOverlap":false,"grid":true,"gridColor":"#d6d6d6","gridOpacity":{"condition":{"test":"datum.value % 5 === 0","value":1},"value":0}}},
"y":{"field":"c","type":"quantitative","scale":{"domain":[-0.0085,0.008],"nice":false,"zero":false},"axis":{"orient":"left","values":[0.005,-0.005],"format":"~g","labelExpr":"replace(datum.label,'\u2212','-')","title":null,"labelFontSize":12,"labelFontWeight":"bold","labelColor":"#222","tickSize":-3,"tickColor":"#444","labelPadding":9,"grid":true,"gridColor":"#d6d6d6"}}}},
{"data":{"values":[{"t":0,"v":0}]},"mark":{"type":"point","opacity":0},
"encoding":{
"x":{"field":"t","type":"quantitative","scale":{"domain":[0,60],"nice":false,"zero":false},"axis":{"orient":"top","values":[0,1,2,3,4,5,6,7,8,9,10,11,12,13,14,15,16,17,18,19,20,21,22,23,24,25,26,27,28,29,30,31,32,33,34,35,36,37,38,39,40,41,42,43,44,45,46,47,48,49,50,51,52,53,54,55,56,57,58,59],"labels":false,"title":null,"tickSize":-3,"tickColor":"#444"}},
"y":{"field":"v","type":"quantitative","scale":{"domain":[-0.0085,0.008],"nice":false,"zero":false},"axis":{"orient":"right","values":[0.005,-0.005],"labels":false,"title":null,"tickSize":-3,"tickColor":"#444"}}}}
],
"resolve":{"axis":{"x":"independent","y":"independent"}}},
{"width":697,"height":16,"view":{"stroke":null},
"layer":[
{"data":{"name":"dots"},"mark":{"type":"point","filled":true,"color":"#ececec","size":190,"opacity":1,"clip":false},
"encoding":{"x":{"field":"x","type":"quantitative","scale":{"domain":[0,60],"nice":false,"zero":false},"axis":null},"y":{"field":"y","type":"quantitative","scale":{"domain":[0,1],"nice":false,"zero":false},"axis":null}}},
{"data":{"name":"dots"},"mark":{"type":"square","filled":true,"color":"#000","size":5,"opacity":1,"clip":false},
"encoding":{"x":{"field":"x","type":"quantitative","scale":{"domain":[0,60],"nice":false,"zero":false},"axis":null},"y":{"field":"y","type":"quantitative","scale":{"domain":[0,1],"nice":false,"zero":false},"axis":null}}}
]},
{"width":697,"height":79,"view":{"stroke":"#444"},
"layer":[
{"data":{"name":"p5"},"mark":{"type":"line","color":"#000","strokeWidth":1,"interpolate":"monotone"},
"encoding":{
"x":{"field":"t","type":"quantitative","scale":{"domain":[0,60],"nice":false,"zero":false},"axis":{"orient":"bottom","values":[0,1,2,3,4,5,6,7,8,9,10,11,12,13,14,15,16,17,18,19,20,21,22,23,24,25,26,27,28,29,30,31,32,33,34,35,36,37,38,39,40,41,42,43,44,45,46,47,48,49,50,51,52,53,54,55,56,57,58,59],"format":"d","labelExpr":"datum.value % 5 === 0 ? datum.label : ''","title":null,"labelFontSize":12,"labelFontWeight":"bold","labelColor":"#222","tickSize":-3,"tickColor":"#444","labelPadding":7,"labelFlush":false,"labelOverlap":false,"grid":true,"gridColor":"#d6d6d6","gridOpacity":{"condition":{"test":"datum.value % 5 === 0","value":1},"value":0}}},
"y":{"field":"v","type":"quantitative","scale":{"domain":[-0.252,-0.052],"nice":false,"zero":false},"axis":{"orient":"left","values":[-0.1,-0.2],"format":"~g","labelExpr":"replace(datum.label,'\u2212','-')","title":null,"labelFontSize":12,"labelFontWeight":"bold","labelColor":"#222","tickSize":-3,"tickColor":"#444","labelPadding":9,"grid":true,"gridColor":"#d6d6d6"}}}},
{"data":{"values":[{"t":0,"v":-0.15}]},"mark":{"type":"point","opacity":0},
"encoding":{
"x":{"field":"t","type":"quantitative","scale":{"domain":[0,60],"nice":false,"zero":false},"axis":{"orient":"top","values":[0,1,2,3,4,5,6,7,8,9,10,11,12,13,14,15,16,17,18,19,20,21,22,23,24,25,26,27,28,29,30,31,32,33,34,35,36,37,38,39,40,41,42,43,44,45,46,47,48,49,50,51,52,53,54,55,56,57,58,59],"labels":false,"title":null,"tickSize":-3,"tickColor":"#444"}},
"y":{"field":"v","type":"quantitative","scale":{"domain":[-0.252,-0.052],"nice":false,"zero":false},"axis":{"orient":"right","values":[-0.1,-0.2],"labels":false,"title":null,"tickSize":-3,"tickColor":"#444"}}}}
],
"resolve":{"axis":{"x":"independent","y":"independent"}}}
]}
]}
]
}
